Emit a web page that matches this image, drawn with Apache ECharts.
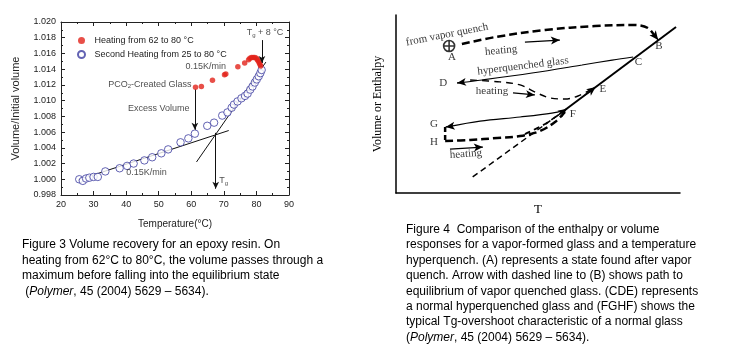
<!DOCTYPE html>
<html><head><meta charset="utf-8">
<script src="https://cdn.jsdelivr.net/npm/echarts@6/dist/echarts.min.js"></script>
<style>html,body{margin:0;padding:0;background:#fff}#c{width:731px;height:358px}</style>
</head><body><div id="c"></div>
<script>
// ===== Figure 3: volume recovery =====
const xTicks = [20, 30, 40, 50, 60, 70, 80, 90];
const yTicks = [0.998, 1.000, 1.002, 1.004, 1.006, 1.008, 1.010, 1.012, 1.014, 1.016, 1.018, 1.020];
const seriesNames = ['Heating from 62 to 80 °C', 'Second Heating from 25 to 80 °C'];
const heatingT = [61.3, 63.1, 66.5, 70.2, 70.6, 74.3, 76.4, 77.6, 78.0, 78.5, 79.0, 79.5, 80.0, 80.3, 80.6, 80.9, 81.1, 81.3];
const heatingV = [1.0117, 1.0118, 1.0126, 1.0133, 1.0134, 1.0143, 1.0148, 1.0152, 1.0154, 1.0155, 1.0155, 1.0155, 1.0154, 1.0152, 1.0150, 1.0148, 1.0146, 1.0144];
const secondT = [25.6, 26.7, 27.7, 28.7, 30.0, 31.3, 33.6, 38.0, 40.3, 42.3, 45.6, 48.0, 50.8, 52.9, 56.7, 59.1, 61.1, 64.9, 67.0, 69.5, 71.1, 72.4, 73.1, 74.2, 75.4, 76.5, 77.3, 78.1, 78.8, 79.5, 80.1, 80.7, 81.2, 81.6];
const secondV = [1.0000, 0.9998, 1.0001, 1.0002, 1.0003, 1.0003, 1.0010, 1.0014, 1.0017, 1.0020, 1.0024, 1.0028, 1.0033, 1.0038, 1.0047, 1.0052, 1.0058, 1.0068, 1.0072, 1.0081, 1.0085, 1.0091, 1.0095, 1.0099, 1.0103, 1.0106, 1.0109, 1.0114, 1.0118, 1.0123, 1.0127, 1.0131, 1.0135, 1.0139];
const glassFitT = [25.2, 71.5];
const glassFitV = [0.9999, 1.0062];
const rubberFitT = [61.6, 82.9];
const rubberFitV = [1.0022, 1.0149];
// arrows: [x1, y1, x2, y2]
const fig3Arrows = [
  [61.1, 1.0114, 61.1, 1.0063],
  [67.5, 1.0059, 67.5, 0.9988],
  [81.7, 1.0177, 81.7, 1.0148]
];
// labels: [x, y, text]
const fig3Labels = [
  [58.2, 1.0144, '0.15K/min'],
  [34.5, 1.0121, '{t|PCO}{s|2}{t|-Created Glass}'],
  [40.6, 1.0090, 'Excess Volume'],
  [40.0, 1.0008, '0.15K/min'],
  [68.6, 0.9998, '{t|T}{s|g}'],
  [77.0, 1.0186, '{t|T}{s|g}{t| + 8 °C}']
];
const fig3Caption = [
  'Figure 3 Volume recovery for an epoxy resin. On',
  'heating from 62°C to 80°C, the volume passes through a',
  'maximum before falling into the equilibrium state',
  ' ({i|Polymer}, 45 (2004) 5629 – 5634).'
];

// ===== Figure 4: schematic (T, Volume/Enthalpy in arbitrary 0-100 units) =====
const equilibriumLine = [[59.5, 46.6], [98.6, 93.3]];
const equilibriumExt = [[27, 9], [59.5, 46.6]];
const vaporPath = [[23.2, 83.7], [34.9, 87.6], [52.5, 91.6], [70.1, 93.8], [84.2, 94.4], [88.7, 92.7], [91.0, 88.4]];
const hyperGlass = [[83.5, 76.4], [76.1, 74.7], [65.5, 71.9], [47.9, 67.4], [30.3, 63.5], [22.5, 62.0]];
const hyperHeating = [[26.1, 63.5], [36.6, 62.4], [43.7, 60.7], [49.6, 56.2], [54.2, 53.4], [59.5, 52.8], [64.1, 54.5], [68.3, 57.9]];
const normalGlass = [[59.5, 46.6], [54.9, 44.9], [43.7, 42.7], [29.6, 40.4], [18.5, 37.3]];
const glassGH = [[17.3, 37.1], [17.3, 29.2]];
const glassHF = [[17.3, 29.2], [26.1, 29.8], [35.6, 30.9], [43.7, 32.0], [50.7, 34.8], [56.0, 39.9], [59.5, 45.5]];
const glassHF2 = [[45.4, 33.1], [52.5, 38.8], [58.5, 45.5]];
const stateA = [[18.7, 82.6]];
const fig4Arrows = [
  [90.6, 89.5, 92.3, 86.0],
  [24.0, 62.3, 21.5, 61.8],
  [20.0, 37.6, 17.5, 37.1],
  [56.5, 43.0, 60.2, 47.4],
  [66.6, 55.1, 70.3, 59.5],
  [45.4, 84.8, 57.7, 85.9],
  [41.2, 56.2, 48.9, 55.1],
  [19.0, 24.7, 30.6, 25.8]
];
// labels: [x, y, text, rotation]
const fig4Labels = [
  [18.0, 89.0, 'from vapor quench', 11],
  [37.0, 80.0, 'heating', 5],
  [19.7, 76.2, 'A', 0],
  [92.6, 82.4, 'B', 0],
  [85.4, 73.4, 'C', 0],
  [44.7, 71.3, 'hyperquenched glass', 7],
  [16.6, 61.8, 'D', 0],
  [33.8, 57.3, 'heating', 0],
  [72.8, 58.2, 'E', 0],
  [62.3, 44.6, 'F', 0],
  [13.4, 38.8, 'G', 0],
  [13.4, 28.7, 'H', 0],
  [24.6, 21.9, 'heating', 4]
];
const fig4Caption = [
  'Figure 4  Comparison of the enthalpy or volume',
  'responses for a vapor-formed glass and a temperature',
  'hyperquench. (A) represents a state found after vapor',
  'quench. Arrow with dashed line to (B) shows path to',
  'equilibrium of vapor quenched glass. (CDE) represents',
  'a normal hyperquenched glass and (FGHF) shows the',
  'typical Tg-overshoot characteristic of a normal glass',
  '({i|Polymer}, 45 (2004) 5629 – 5634).'
];

const SANS = '"Liberation Sans", Arial, sans-serif';
const SERIF = '"Liberation Serif", "DejaVu Serif", serif';
const zip = (a, b) => a.map((v, i) => [v, b[i]]);
const arrowData = arr => arr.map(a => [{coord: [a[0], a[1]]}, {coord: [a[2], a[3]]}]);

const chart = echarts.init(document.getElementById('c'), null, {renderer: 'canvas'});
const axisCol = '#222';
const f3AxisCommon = {
  axisLine: {onZero: false, lineStyle: {color: axisCol, width: 1}},
  axisTick: {inside: true, length: 4, lineStyle: {color: axisCol}},
  minorTick: {show: true, splitNumber: 2, length: 2, lineStyle: {color: axisCol}},
  splitLine: {show: false}
};
const xInt = xTicks[1] - xTicks[0];
const yInt = 0.002;

const rightLine = (data, width, type, smooth, z) => ({
  type: 'line', xAxisIndex: 2, yAxisIndex: 2, data: data, smooth: smooth ? 0.35 : false,
  showSymbol: false, symbol: 'none', silent: true, z: z || 2,
  lineStyle: {color: '#000', width: width, type: type}
});

const option = {
  animation: false,
  backgroundColor: '#fff',
  grid: [
    {left: 61, top: 22, width: 228, height: 173},
    {left: 396, top: 15, width: 284, height: 178}
  ],
  legend: {
    data: seriesNames, orient: 'vertical', left: 72, top: 31,
    itemWidth: 16, itemHeight: 7, itemGap: 5,
    textStyle: {fontSize: 9, color: '#222', fontFamily: SANS}
  },
  xAxis: [
    Object.assign({gridIndex: 0, type: 'value', min: xTicks[0], max: xTicks[xTicks.length - 1], interval: xInt,
      axisLabel: {fontSize: 9, color: '#222', margin: 5, fontFamily: SANS},
      name: 'Temperature(°C)', nameLocation: 'middle', nameGap: 24,
      nameTextStyle: {fontSize: 10, color: '#222', fontFamily: SANS}}, f3AxisCommon),
    Object.assign({gridIndex: 0, type: 'value', position: 'top', min: xTicks[0], max: xTicks[xTicks.length - 1], interval: xInt,
      axisLabel: {show: false}}, f3AxisCommon),
    {gridIndex: 1, type: 'value', min: 0, max: 100,
      axisLine: {onZero: false, lineStyle: {color: '#000', width: 1.5}},
      axisTick: {show: false}, axisLabel: {show: false}, splitLine: {show: false},
      name: 'T', nameLocation: 'middle', nameGap: 10,
      nameTextStyle: {fontSize: 13, color: '#000', fontFamily: SERIF}}
  ],
  yAxis: [
    Object.assign({gridIndex: 0, type: 'value', min: yTicks[0], max: yTicks[yTicks.length - 1], interval: yInt,
      axisLabel: {fontSize: 9, color: '#222', margin: 5, fontFamily: SANS, formatter: v => v.toFixed(3)},
      name: 'Volume/Initial volume', nameLocation: 'middle', nameGap: 40,
      nameTextStyle: {fontSize: 11, color: '#222', fontFamily: SANS}}, f3AxisCommon),
    Object.assign({gridIndex: 0, type: 'value', position: 'right', min: yTicks[0], max: yTicks[yTicks.length - 1], interval: yInt,
      axisLabel: {show: false}}, f3AxisCommon),
    {gridIndex: 1, type: 'value', min: 0, max: 100,
      axisLine: {onZero: false, lineStyle: {color: '#000', width: 1.5}},
      axisTick: {show: false}, axisLabel: {show: false}, splitLine: {show: false},
      name: 'Volume or Enthalpy', nameLocation: 'middle', nameGap: 12,
      nameTextStyle: {fontSize: 12, color: '#000', fontFamily: SERIF}}
  ],
  series: [
    {type: 'line', name: 'glassFit', xAxisIndex: 0, yAxisIndex: 0, data: zip(glassFitT, glassFitV),
      symbol: 'none', silent: true, z: 1, lineStyle: {color: '#111', width: 1}},
    {type: 'line', name: 'rubberFit', xAxisIndex: 0, yAxisIndex: 0, data: zip(rubberFitT, rubberFitV),
      symbol: 'none', silent: true, z: 1, lineStyle: {color: '#111', width: 1},
      markLine: {silent: true, symbol: ['none', 'arrow'], symbolSize: [5, 7], label: {show: false},
        lineStyle: {color: '#111', width: 1, type: 'solid'}, data: arrowData(fig3Arrows)}},
    {type: 'scatter', name: seriesNames[1], xAxisIndex: 0, yAxisIndex: 0, data: zip(secondT, secondV),
      symbol: 'circle', symbolSize: 7.5, z: 3,
      itemStyle: {color: '#fff', borderColor: '#3c3ca0', borderWidth: 1}},
    {type: 'scatter', name: seriesNames[0], xAxisIndex: 0, yAxisIndex: 0, data: zip(heatingT, heatingV),
      symbol: 'circle', symbolSize: 5.5, z: 4, itemStyle: {color: '#e2231a'}},
    {type: 'scatter', name: 'fig3Labels', xAxisIndex: 0, yAxisIndex: 0, symbolSize: 0, silent: true, z: 5,
      data: fig3Labels.map(l => ({value: [l[0], l[1]], label: {formatter: l[2]}})),
      label: {show: true, position: 'right', distance: 0, color: '#222', fontSize: 9, fontFamily: SANS,
        rich: {t: {fontSize: 9, color: '#222', fontFamily: SANS},
               s: {fontSize: 6, color: '#222', fontFamily: SANS, verticalAlign: 'bottom', padding: [5, 0, 0, 0]}}}},
    // Figure 4
    rightLine(equilibriumLine, 2, 'solid', false, 3),
    rightLine(equilibriumExt, 1.5, [6, 4], false),
    rightLine(vaporPath, 2.5, [8, 4], true),
    rightLine(hyperGlass, 1.2, 'solid', true),
    rightLine(hyperHeating, 1.4, [7, 5], true),
    rightLine(normalGlass, 1.2, 'solid', true),
    rightLine(glassGH, 2.5, [5, 3], false),
    rightLine(glassHF, 2.5, [8, 4], true),
    rightLine(glassHF2, 1.8, [6, 4], true),
    {type: 'line', xAxisIndex: 2, yAxisIndex: 2, data: [], symbol: 'none', silent: true,
      markLine: {silent: true, symbol: ['none', 'arrow'], symbolSize: [6, 9], label: {show: false},
        lineStyle: {color: '#000', width: 1.3, type: 'solid'}, data: arrowData(fig4Arrows)}},
    {type: 'scatter', xAxisIndex: 2, yAxisIndex: 2, data: stateA, silent: true,
      symbol: 'path://M0,-10A10,10,0,1,1,0,10A10,10,0,1,1,0,-10ZM-10,0L10,0M0,-10L0,10', symbolSize: 11,
      itemStyle: {color: 'rgba(0,0,0,0)', borderColor: '#000', borderWidth: 1.6}},
    {type: 'scatter', xAxisIndex: 2, yAxisIndex: 2, symbolSize: 0, silent: true, z: 5,
      data: fig4Labels.map(l => ({value: [l[0], l[1]], name: l[2], label: {rotate: l[3]}})),
      label: {show: true, position: 'inside', formatter: '{b}', color: '#000', fontSize: 11, fontFamily: SERIF}}
  ],
  graphic: [
    {type: 'text', left: 22, top: 237, silent: true,
      style: {text: fig3Caption.join('\n'), font: '12px ' + SANS, fill: '#000', lineHeight: 15.6,
        rich: {i: {fontStyle: 'italic', fontSize: 12, fontFamily: SANS, fill: '#000', lineHeight: 15.6}}}},
    {type: 'text', left: 406, top: 222, silent: true,
      style: {text: fig4Caption.join('\n'), font: '12px ' + SANS, fill: '#000', lineHeight: 15.4,
        rich: {i: {fontStyle: 'italic', fontSize: 12, fontFamily: SANS, fill: '#000', lineHeight: 15.4}}}}
  ]
};
chart.setOption(option);
</script></body></html>
